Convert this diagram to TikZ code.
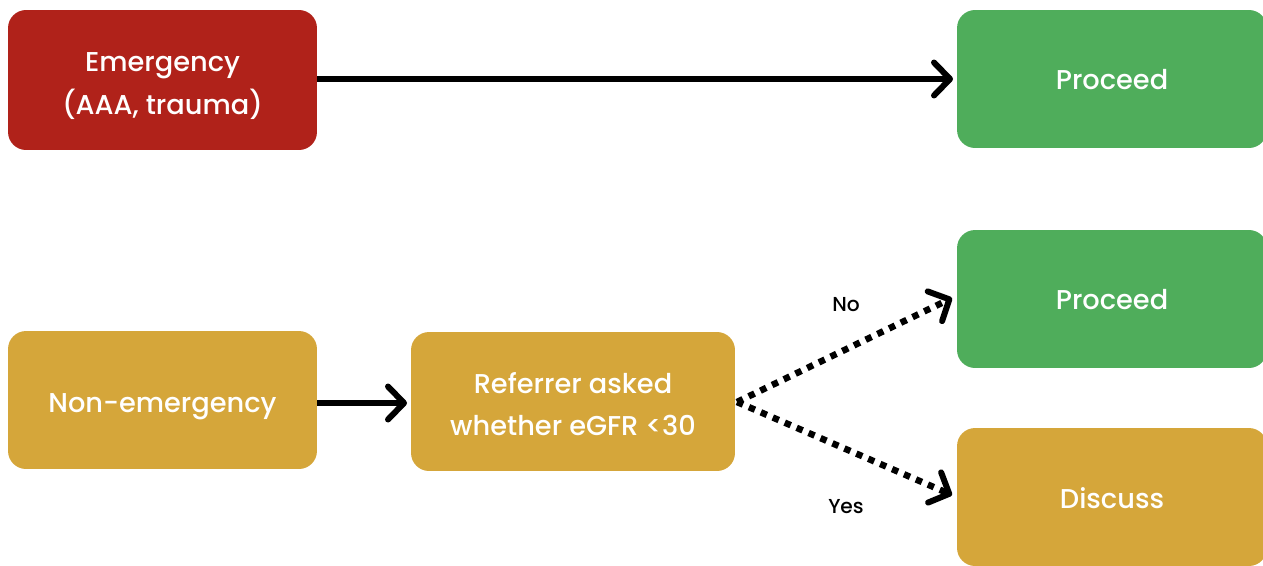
\documentclass[tikz,border=0pt]{standalone}
\usepackage{fontspec}
\setmainfont{Poppins}[UprightFont={* Medium}]
\usetikzlibrary{arrows.meta}
\definecolor{emred}{HTML}{B0221A}
\definecolor{okgreen}{HTML}{4FAD5B}
\definecolor{amber}{HTML}{D5A63A}
\tikzset{
  box/.style={rounded corners=0.36cm, inner sep=0pt},
  boxtext/.style={inner sep=0pt, text=white,
    font=\fontsize{15.5}{24.2}\selectfont, align=center},
  conn/.style={line width=0.12cm, -{Straight Barb[length=0.32cm, width=0.66cm, line width=0.12cm, line cap=round, line join=round]}},
  dotconn/.style={conn, line width=0.13cm, dash pattern=on 0.13cm off 0.13cm},
  lbl/.style={font=\fontsize{11.5}{14}\selectfont, text=black}
}
\begin{document}
\begin{tikzpicture}[x=0.02cm,y=-0.02cm]
\useasboundingbox (0,0) rectangle (1263,565);
\begin{scope}
\clip (0,0) rectangle (1263,565);
\node[box, fill=emred, minimum width=6.18cm, minimum height=2.8cm] (emg) at (162.5,80) {};
\node[box, fill=okgreen, minimum width=6.2cm, minimum height=2.76cm] (p1) at (1112,79) {};
\node[box, fill=okgreen, minimum width=6.2cm, minimum height=2.76cm] (p2) at (1112,299) {};
\node[box, fill=amber, minimum width=6.18cm, minimum height=2.76cm] (non) at (162.5,400) {};
\node[box, fill=amber, minimum width=6.48cm, minimum height=2.78cm] (ref) at (573,401.5) {};
\node[box, fill=amber, minimum width=6.2cm, minimum height=2.76cm] (dis) at (1112,497) {};
\end{scope}
\node[boxtext] (emgt) at ([yshift=-0.12cm]emg.center) {Emergency\\(AAA, trauma)};
\node[boxtext] (p1t) at ([yshift=-0.02cm]p1.center) {Proceed};
\node[boxtext] (p2t) at ([yshift=-0.02cm]p2.center) {Proceed};
\node[boxtext] (nont) at ([yshift=-0.14cm]non.center) {Non-emergency};
\node[boxtext] (reft) at ([yshift=-0.05cm]ref.center) {Referrer asked\\whether eGFR <30};
\node[boxtext] (dist) at ([yshift=-0.02cm]dis.center) {Discuss};
\coordinate (a1s) at (317,79);
\coordinate (a1e) at (953,79);
\draw[conn] (emg.east |- a1s) -- (a1e);
\coordinate (a2e) at (407,403);
\draw[conn] (non.east |- a2e) -- (a2e);
\coordinate (d0) at (737,402);
\coordinate (d1) at (952,298);
\coordinate (d2) at (952,495);
\draw[dotconn] (d0) -- (d1);
\draw[dotconn] (d0) -- (d2);
\node[lbl] (no) at (846,305) {No};
\node[lbl] (yes) at (846,507) {Yes};
\end{tikzpicture}
\end{document}
